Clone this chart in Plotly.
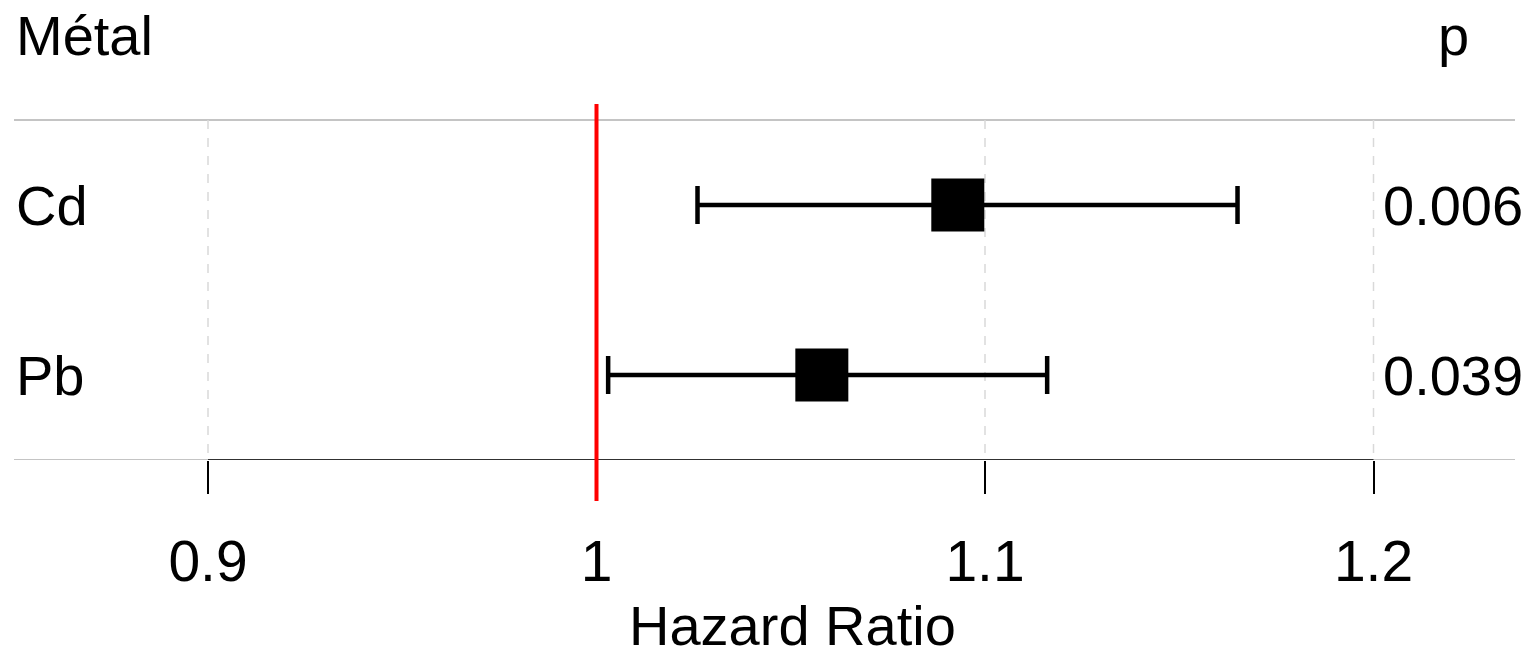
import plotly.graph_objects as go

metals = ["Cd", "Pb"]
hr = [1.093, 1.058]
ci_low = [1.026, 1.003]
ci_high = [1.165, 1.116]
p_values = ["0.006", "0.039"]
tick_vals = [0.9, 1.0, 1.1, 1.2]
tick_text = ["0.9", "1", "1.1", "1.2"]
x_title = "Hazard Ratio"

FONT = "Liberation Sans, Arial, sans-serif"
rows = [1, 2]

W, H = 1529, 644
PLOT_H = 452
PX_PER_UNIT = 3885

fig = go.Figure()
fig.add_trace(go.Scatter(
    x=hr, y=rows, mode="markers",
    marker=dict(symbol="square", size=53, color="black", line=dict(width=0)),
    error_x=dict(type="data", symmetric=False,
                 array=[h - e for h, e in zip(ci_high, hr)],
                 arrayminus=[e - l for e, l in zip(hr, ci_low)],
                 color="black", thickness=4.5, width=19),
    showlegend=False, hoverinfo="skip"))

shapes = []
for v in tick_vals:
    shapes.append(dict(type="line", xref="x", yref="y", x0=v, x1=v, y0=0.5, y1=2.5,
                       line=dict(color="#d9d9d9", width=1.5, dash="dash"), layer="below"))
for yy in [0.5, 2.5]:
    shapes.append(dict(type="line", xref="paper", yref="y", x0=6 / W, x1=1507 / W, y0=yy, y1=yy,
                       line=dict(color="#c4c4c4", width=2), layer="below"))
shapes.append(dict(type="line", xref="x", yref="y", x0=tick_vals[0], x1=tick_vals[-1], y0=2.5, y1=2.5,
                   line=dict(color="black", width=1.5)))
shapes.append(dict(type="line", xref="x", yref="paper", x0=1.0, x1=1.0,
                   y0=1 - 96 / PLOT_H, y1=1 - 493 / PLOT_H,
                   line=dict(color="#ff0000", width=4)))

ann = []
LX = 6 / W
PX = 1445 / W
ann.append(dict(text="Métal", xref="paper", yref="y", x=LX, y=0, xanchor="left", yanchor="middle",
                showarrow=False, font=dict(size=56, color="black", family=FONT)))
ann.append(dict(text="p", xref="paper", yref="y", x=PX, y=0, xanchor="center", yanchor="middle",
                showarrow=False, font=dict(size=56, color="black", family=FONT)))
for m, r, p in zip(metals, rows, p_values):
    ann.append(dict(text=m, xref="paper", yref="y", x=LX, y=r, xanchor="left", yanchor="middle",
                    showarrow=False, font=dict(size=56, color="black", family=FONT)))
    ann.append(dict(text=p, xref="paper", yref="y", x=PX, y=r, xanchor="center", yanchor="middle",
                    showarrow=False, font=dict(size=56, color="black", family=FONT)))
ann.append(dict(text=x_title, xref="paper", yref="paper", x=784 / W, y=1 - 617 / PLOT_H,
                xanchor="center", yanchor="middle", showarrow=False,
                font=dict(size=56, color="black", family=FONT)))

fig.update_layout(
    width=W, height=H,
    margin=dict(l=0, r=0, t=0, b=H - PLOT_H),
    paper_bgcolor="white", plot_bgcolor="white",
    shapes=shapes, annotations=ann,
    xaxis=dict(range=[0.9 - 200 / PX_PER_UNIT, 0.9 + (W - 200) / PX_PER_UNIT],
               tickvals=tick_vals, ticktext=tick_text,
               ticks="outside", ticklen=33, tickwidth=1.5, tickcolor="black",
               ticklabelstandoff=19,
               tickfont=dict(size=57, color="black", family=FONT),
               showgrid=False, zeroline=False, showline=False,
               fixedrange=True),
    yaxis=dict(range=[2.5, -0.159], showticklabels=False, showgrid=False, zeroline=False,
               showline=False, ticks="", fixedrange=True),
)

fig.write_html("out.html")
